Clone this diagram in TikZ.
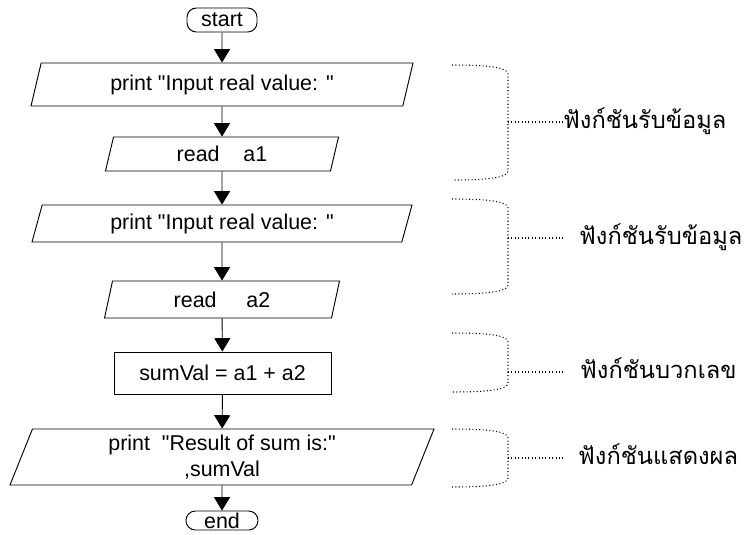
\documentclass[tikz,border=0pt]{standalone}
\usepackage{fontspec}
\setmainfont{Liberation Sans}[Ligatures=TeXOff]
\newfontfamily\thaifont[Script=Thai]{Loma}
\usetikzlibrary{shapes.geometric, arrows.meta, calc}

\begin{document}
\begin{tikzpicture}[
				x=0.3mm, y=-0.3mm,
				font=\fontsize{18.3}{22}\selectfont,
				terminal/.style={rectangle, rounded corners=2.8mm, draw, line width=0.8pt, inner sep=0pt},
				io/.style={trapezium, trapezium left angle=63, trapezium right angle=117, trapezium stretches body, draw, line width=0.8pt, inner sep=0pt, align=center},
				process/.style={rectangle, draw, line width=0.8pt, inner sep=0pt},
				arrow/.style={-{Triangle[length=4mm,width=4.8mm]}, line width=0.8pt},
				brace/.style={dotted, line width=0.9pt},
				thailabel/.style={anchor=base west, inner sep=0pt, font=\thaifont\fontsize{20.2}{24}\selectfont}
			]
			\useasboundingbox (0,0) rectangle (747,534);

			% Flowchart
			\node (start) [terminal, minimum width=21mm, minimum height=7.2mm] at (222,20) {start};
			\node (input1) [io, minimum width=114.6mm, minimum height=12.9mm] at (222,84.5) {print "Input real value: "};
			\node (read1) [io, minimum width=69.9mm, minimum height=10.2mm] at (222,154) {read\ \ \ \ a1};
			\node (input2) [io, minimum width=114mm, minimum height=11.1mm] at (222,223.5) {print "Input real value: "};
			\node (read2) [io, minimum width=70.5mm, minimum height=11.1mm] at (222,299.5) {read\ \ \ \ \ a2};
			\node (sum) [process, minimum width=65.1mm, minimum height=12.6mm] at (222.5,373) {sumVal = a1 + a2};
			\node (output) [io, minimum width=127.2mm, minimum height=16.8mm] at (222,457) {print\ \ "Result of sum is:"\\,sumVal};
			\node (end) [terminal, minimum width=21.6mm, minimum height=5.7mm] at (222,520.5) {end};

			\draw [arrow] (start) -- (input1);
			\draw [arrow] (input1) -- (read1);
			\draw [arrow] (read1) -- (input2);
			\draw [arrow] (input2) -- (read2);
			\draw [arrow] (read2) -- (sum);
			\draw [arrow] (sum) -- (output);
			\draw [arrow] (output) -- (end);

			% Brackets and labels
			\draw [brace] (452,65) .. controls (492,65) and (508,68) .. (508,74) -- (508,171) .. controls (508,177) and (492,180) .. (452,180);
			\coordinate (b1) at (508,122);
			\node (lab1) [thailabel] at (563,128) {ฟังก์ชันรับข้อมูล};
			\draw [brace] (b1) -- (b1 -| lab1.west);

			\draw [brace] (452,199) .. controls (492,199) and (508,202) .. (508,208) -- (508,285) .. controls (508,291) and (492,294) .. (452,294);
			\coordinate (b2) at (508,238);
			\coordinate (t2) at (563,238);
			\node (lab2) [thailabel] at (579,244) {ฟังก์ชันรับข้อมูล};
			\draw [brace] (b2) -- (t2);

			\draw [brace] (452,333) .. controls (492,333) and (508,336) .. (508,342) -- (508,383) .. controls (508,389) and (492,392) .. (452,392);
			\coordinate (b3) at (508,372);
			\coordinate (t3) at (563,372);
			\node (lab3) [thailabel] at (580,378) {ฟังก์ชันบวกเลข};
			\draw [brace] (b3) -- (t3);

			\draw [brace] (452,429) .. controls (492,429) and (508,432) .. (508,438) -- (508,478) .. controls (508,484) and (492,487) .. (452,487);
			\coordinate (b4) at (508,458);
			\coordinate (t4) at (563,458);
			\node (lab4) [thailabel] at (578,464) {ฟังก์ชันแสดงผล};
			\draw [brace] (b4) -- (t4);

		\end{tikzpicture}
\end{document}
